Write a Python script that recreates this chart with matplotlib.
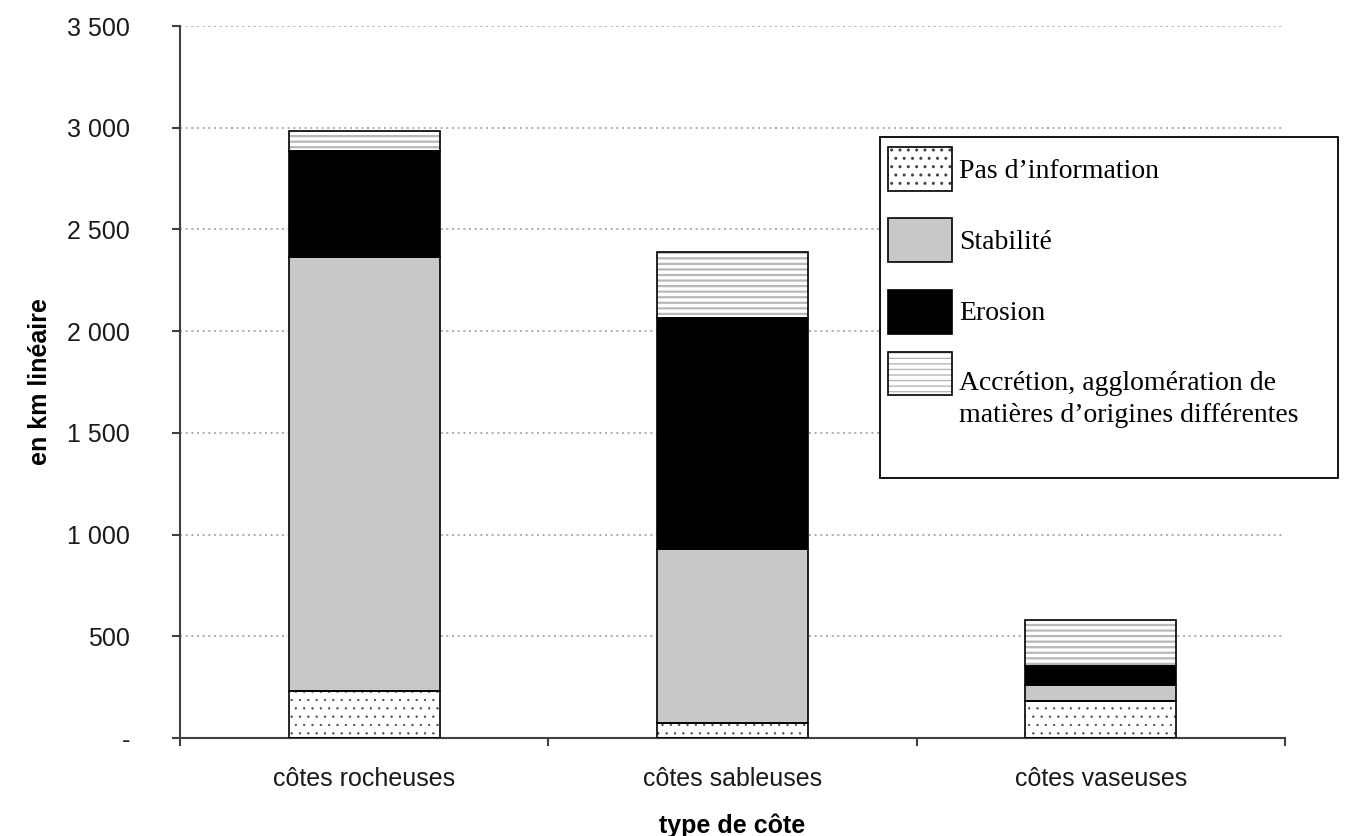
import matplotlib
matplotlib.use("Agg")
import matplotlib.pyplot as plt
from matplotlib.patches import Rectangle
from matplotlib.legend_handler import HandlerTuple
from matplotlib.ticker import FuncFormatter, FixedLocator

# data (km of coastline)
categories = ["côtes rocheuses", "côtes sableuses", "côtes vaseuses"]
pas_info = [230, 75, 180]
stabilite = [2135, 855, 80]
erosion = [520, 1137, 95]
accretion = [100, 323, 225]
series_labels = ["Pas d’information", "Stabilité", "Erosion",
                 "Accrétion, agglomération de\nmatières d’origines différentes"]
yticks = [0, 500, 1000, 1500, 2000, 2500, 3000, 3500]

plt.rcParams["font.family"] = ["Liberation Sans", "DejaVu Sans"]


class ShiftedTuple(HandlerTuple):
    # legend swatch lifted towards the first line of a two-line label
    def __init__(self, dy, **kw):
        super().__init__(**kw)
        self.dy = dy

    def create_artists(self, legend, orig_handle, xdescent, ydescent,
                       width, height, fontsize, trans):
        return super().create_artists(legend, orig_handle, xdescent,
                                      ydescent - self.dy, width, height,
                                      fontsize, trans)


fig = plt.figure(figsize=(13.67, 8.36), dpi=100)
ax = fig.add_axes([180 / 1367, 1 - 738 / 836, 1105 / 1367, 712 / 836])

x = list(range(len(categories)))
width = 0.41
styles = [
    dict(facecolor="white", hatch="..", edgecolor="#444444"),
    dict(facecolor="#c8c8c8", hatch=None, edgecolor="#c8c8c8"),
    dict(facecolor="black", hatch=None, edgecolor="black"),
    dict(facecolor="white", hatch="---", edgecolor="#b8b8b8"),
]
hatch_lw = [0.4, 1.0, 1.0, 1.6]

bottom = [0, 0, 0]
handles = []
for vals, st, hlw in zip([pas_info, stabilite, erosion, accretion], styles, hatch_lw):
    with plt.rc_context({"hatch.linewidth": hlw}):
        ax.bar(x, vals, width, bottom=bottom, linewidth=0, zorder=2, **st)
        fill_h = Rectangle((0, 0), 1, 1, linewidth=0, **st)
    ax.bar(x, vals, width, bottom=bottom, fill=False, edgecolor="black",
           linewidth=1.2, zorder=3)
    handles.append((fill_h, Rectangle((0, 0), 1, 1, fill=False,
                                      edgecolor="black", linewidth=1.2)))
    bottom = [b + v for b, v in zip(bottom, vals)]

ax.set_xlim(-0.5, 2.5)
ax.set_ylim(0, 3500)
ax.set_xticks(x)
ax.set_xticklabels(categories)
ax.xaxis.set_minor_locator(FixedLocator([-0.5, 0.5, 1.5, 2.5]))
ax.set_yticks(yticks)
ax.yaxis.set_major_formatter(FuncFormatter(
    lambda v, p: "-" if v == 0 else f"{int(v):,}".replace(",", " ")))

for s in ["top", "right"]:
    ax.spines[s].set_visible(False)
for s in ["left", "bottom"]:
    ax.spines[s].set_color("#404040")
    ax.spines[s].set_linewidth(1.5)

ax.tick_params(axis="y", direction="out", length=6, width=1.5, color="#404040",
               pad=30, labelsize=18, labelcolor="#1a1a1a")
ax.tick_params(axis="x", which="major", length=0, pad=21, labelsize=18,
               labelcolor="#1a1a1a")
ax.tick_params(axis="x", which="minor", direction="out", length=6, width=1.5,
               color="#404040")

ax.yaxis.grid(True, linestyle=(0, (1.2, 2.2)), color="#a0a0a0", linewidth=1.2)
ax.set_axisbelow(True)

ax.set_xlabel("type de côte", fontsize=18, fontweight="bold", labelpad=16)
ax.set_ylabel("en km linéaire", fontsize=18, fontweight="bold", labelpad=11)

# legend frame and legend (last, two-line entry placed on its own)
frame = Rectangle((0.6335, 0.365), 0.4145, 0.479, transform=ax.transAxes,
                  facecolor="white", edgecolor="black", linewidth=1.3,
                  clip_on=False, zorder=5)
ax.add_patch(frame)
leg_kw = dict(loc="upper left", frameon=False, borderpad=0, borderaxespad=0,
              handlelength=2.3, handleheight=2.04, handletextpad=0.25,
              labelspacing=1.0, prop={"family": "Liberation Serif", "size": 20})
leg = ax.legend(handles[:3], series_labels[:3], bbox_to_anchor=(0.6407, 0.830),
                **leg_kw)
leg.set_zorder(6)
ax.add_artist(leg)
leg2 = ax.legend(handles[3:], series_labels[3:], bbox_to_anchor=(0.6407, 0.5148),
                 handler_map={handles[3]: ShiftedTuple(19.4)}, **leg_kw)
for t in leg2.get_texts():
    t.set_linespacing(1.35)
leg2.set_zorder(6)

fig.savefig("out.png", dpi=100, facecolor="white")
